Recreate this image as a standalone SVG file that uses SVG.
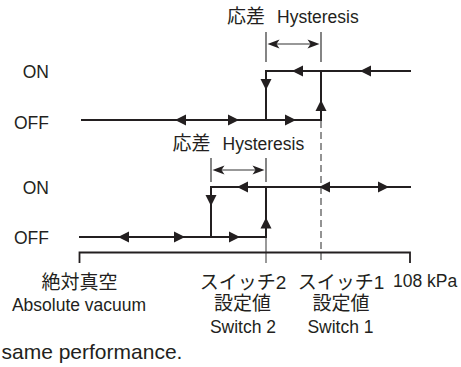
<svg xmlns="http://www.w3.org/2000/svg" xmlns:xlink="http://www.w3.org/1999/xlink" width="461" height="367" viewBox="0 0 461 367">
<style>
.sig{fill:none;stroke:#231f20;stroke-width:2;stroke-linecap:square;stroke-linejoin:miter}
.axis{fill:none;stroke:#231f20;stroke-width:1.8}
.thin{fill:none;stroke:#555;stroke-width:1.2}
.dash{fill:none;stroke:#666;stroke-width:1.4;stroke-dasharray:7 4}
.dim{fill:none;stroke:#333;stroke-width:1.2}
.t{font-family:"Liberation Sans","Noto Sans CJK JP",sans-serif;fill:#231f20;font-size:17.5px}
.j{font-family:"Liberation Sans","Noto Sans CJK JP",sans-serif;fill:#231f20;font-size:19px}
.ah{fill:#231f20}
</style>
<defs>
<path id="ah" d="M0,0 L-11,-5.5 L-11,5.5 Z"/>
<path id="ahs" d="M0,0 L-12,-4.5 L-9,0 L-12,4.5 Z"/>
</defs>

<g id="labels">
<text class="t" x="49" y="78" text-anchor="end">ON</text>
<text class="t" x="49" y="128.5" text-anchor="end">OFF</text>
<text class="t" x="49" y="193.5" text-anchor="end">ON</text>
<text class="t" x="49" y="243.5" text-anchor="end">OFF</text>
<text class="t" y="22.5"><tspan class="j" x="227">応差</tspan><tspan x="277">Hysteresis</tspan></text>
<text class="t" y="149.5"><tspan class="j" x="172.5">応差</tspan><tspan x="222.5">Hysteresis</tspan></text>
</g>

<g id="connectors">
<!-- top chart -->
<polyline class="sig" points="82,120 321,120 321,71 410,71"/>
<polyline class="sig" points="266,120 266,71 321,71"/>
<line class="dim" x1="266" y1="32" x2="266" y2="62"/>
<line class="dim" x1="321" y1="32" x2="321" y2="62"/>
<line class="dim" x1="270" y1="44" x2="317" y2="44"/>
<use xlink:href="#ahs" class="ah" transform="translate(267.5,44) rotate(180)"/>
<use xlink:href="#ahs" class="ah" transform="translate(319.5,44)"/>
<line class="dash" x1="321" y1="121" x2="321" y2="263"/>
<!-- bottom chart -->
<polyline class="sig" points="80,237 266,237 266,187 410,187"/>
<polyline class="sig" points="211,237 211,187 266,187"/>
<line class="dim" x1="211" y1="158" x2="211" y2="182"/>
<line class="dim" x1="266" y1="158" x2="266" y2="182"/>
<line class="dim" x1="215" y1="170" x2="262" y2="170"/>
<use xlink:href="#ahs" class="ah" transform="translate(212.5,170) rotate(180)"/>
<use xlink:href="#ahs" class="ah" transform="translate(264.5,170)"/>
<line class="thin" x1="266" y1="238" x2="266" y2="263"/>
<!-- axis -->
<polyline class="axis" points="79.5,263 79.5,252.5 410,252.5 410,263"/>
</g>

<g id="arrowheads" class="ah">
<use xlink:href="#ah" transform="translate(175,120) rotate(180)"/>
<use xlink:href="#ah" transform="translate(239,120)"/>
<use xlink:href="#ah" transform="translate(296,120)"/>
<use xlink:href="#ah" transform="translate(321,100) rotate(-90)"/>
<use xlink:href="#ah" transform="translate(292,71) rotate(180)"/>
<use xlink:href="#ah" transform="translate(360,71) rotate(180)"/>
<use xlink:href="#ah" transform="translate(266,90) rotate(90)"/>

<use xlink:href="#ah" transform="translate(118,237) rotate(180)"/>
<use xlink:href="#ah" transform="translate(185,237)"/>
<use xlink:href="#ah" transform="translate(240,237)"/>
<use xlink:href="#ah" transform="translate(211,206) rotate(90)"/>
<use xlink:href="#ah" transform="translate(266,217.5) rotate(-90)"/>
<use xlink:href="#ah" transform="translate(237,187) rotate(180)"/>
<use xlink:href="#ah" transform="translate(319,187) rotate(180)"/>
<use xlink:href="#ah" transform="translate(389,187)"/>
</g>

<g id="axis-labels">
<text class="j" x="79.5" y="288.5" text-anchor="middle">絶対真空</text>
<text class="t" x="79" y="310.5" text-anchor="middle">Absolute vacuum</text>
<text class="j" x="243" y="288.5" text-anchor="middle">スイッチ2</text>
<text class="j" x="341" y="288.5" text-anchor="middle">スイッチ1</text>
<text class="t" x="393" y="287">108 kPa</text>
<text class="j" x="242.5" y="310" text-anchor="middle">設定値</text>
<text class="j" x="341" y="310" text-anchor="middle">設定値</text>
<text class="t" x="243" y="332.5" text-anchor="middle">Switch 2</text>
<text class="t" x="340.5" y="332.5" text-anchor="middle">Switch 1</text>
</g>

<text class="t" x="1.5" y="359" style="font-size:21px">same performance.</text>
</svg>
